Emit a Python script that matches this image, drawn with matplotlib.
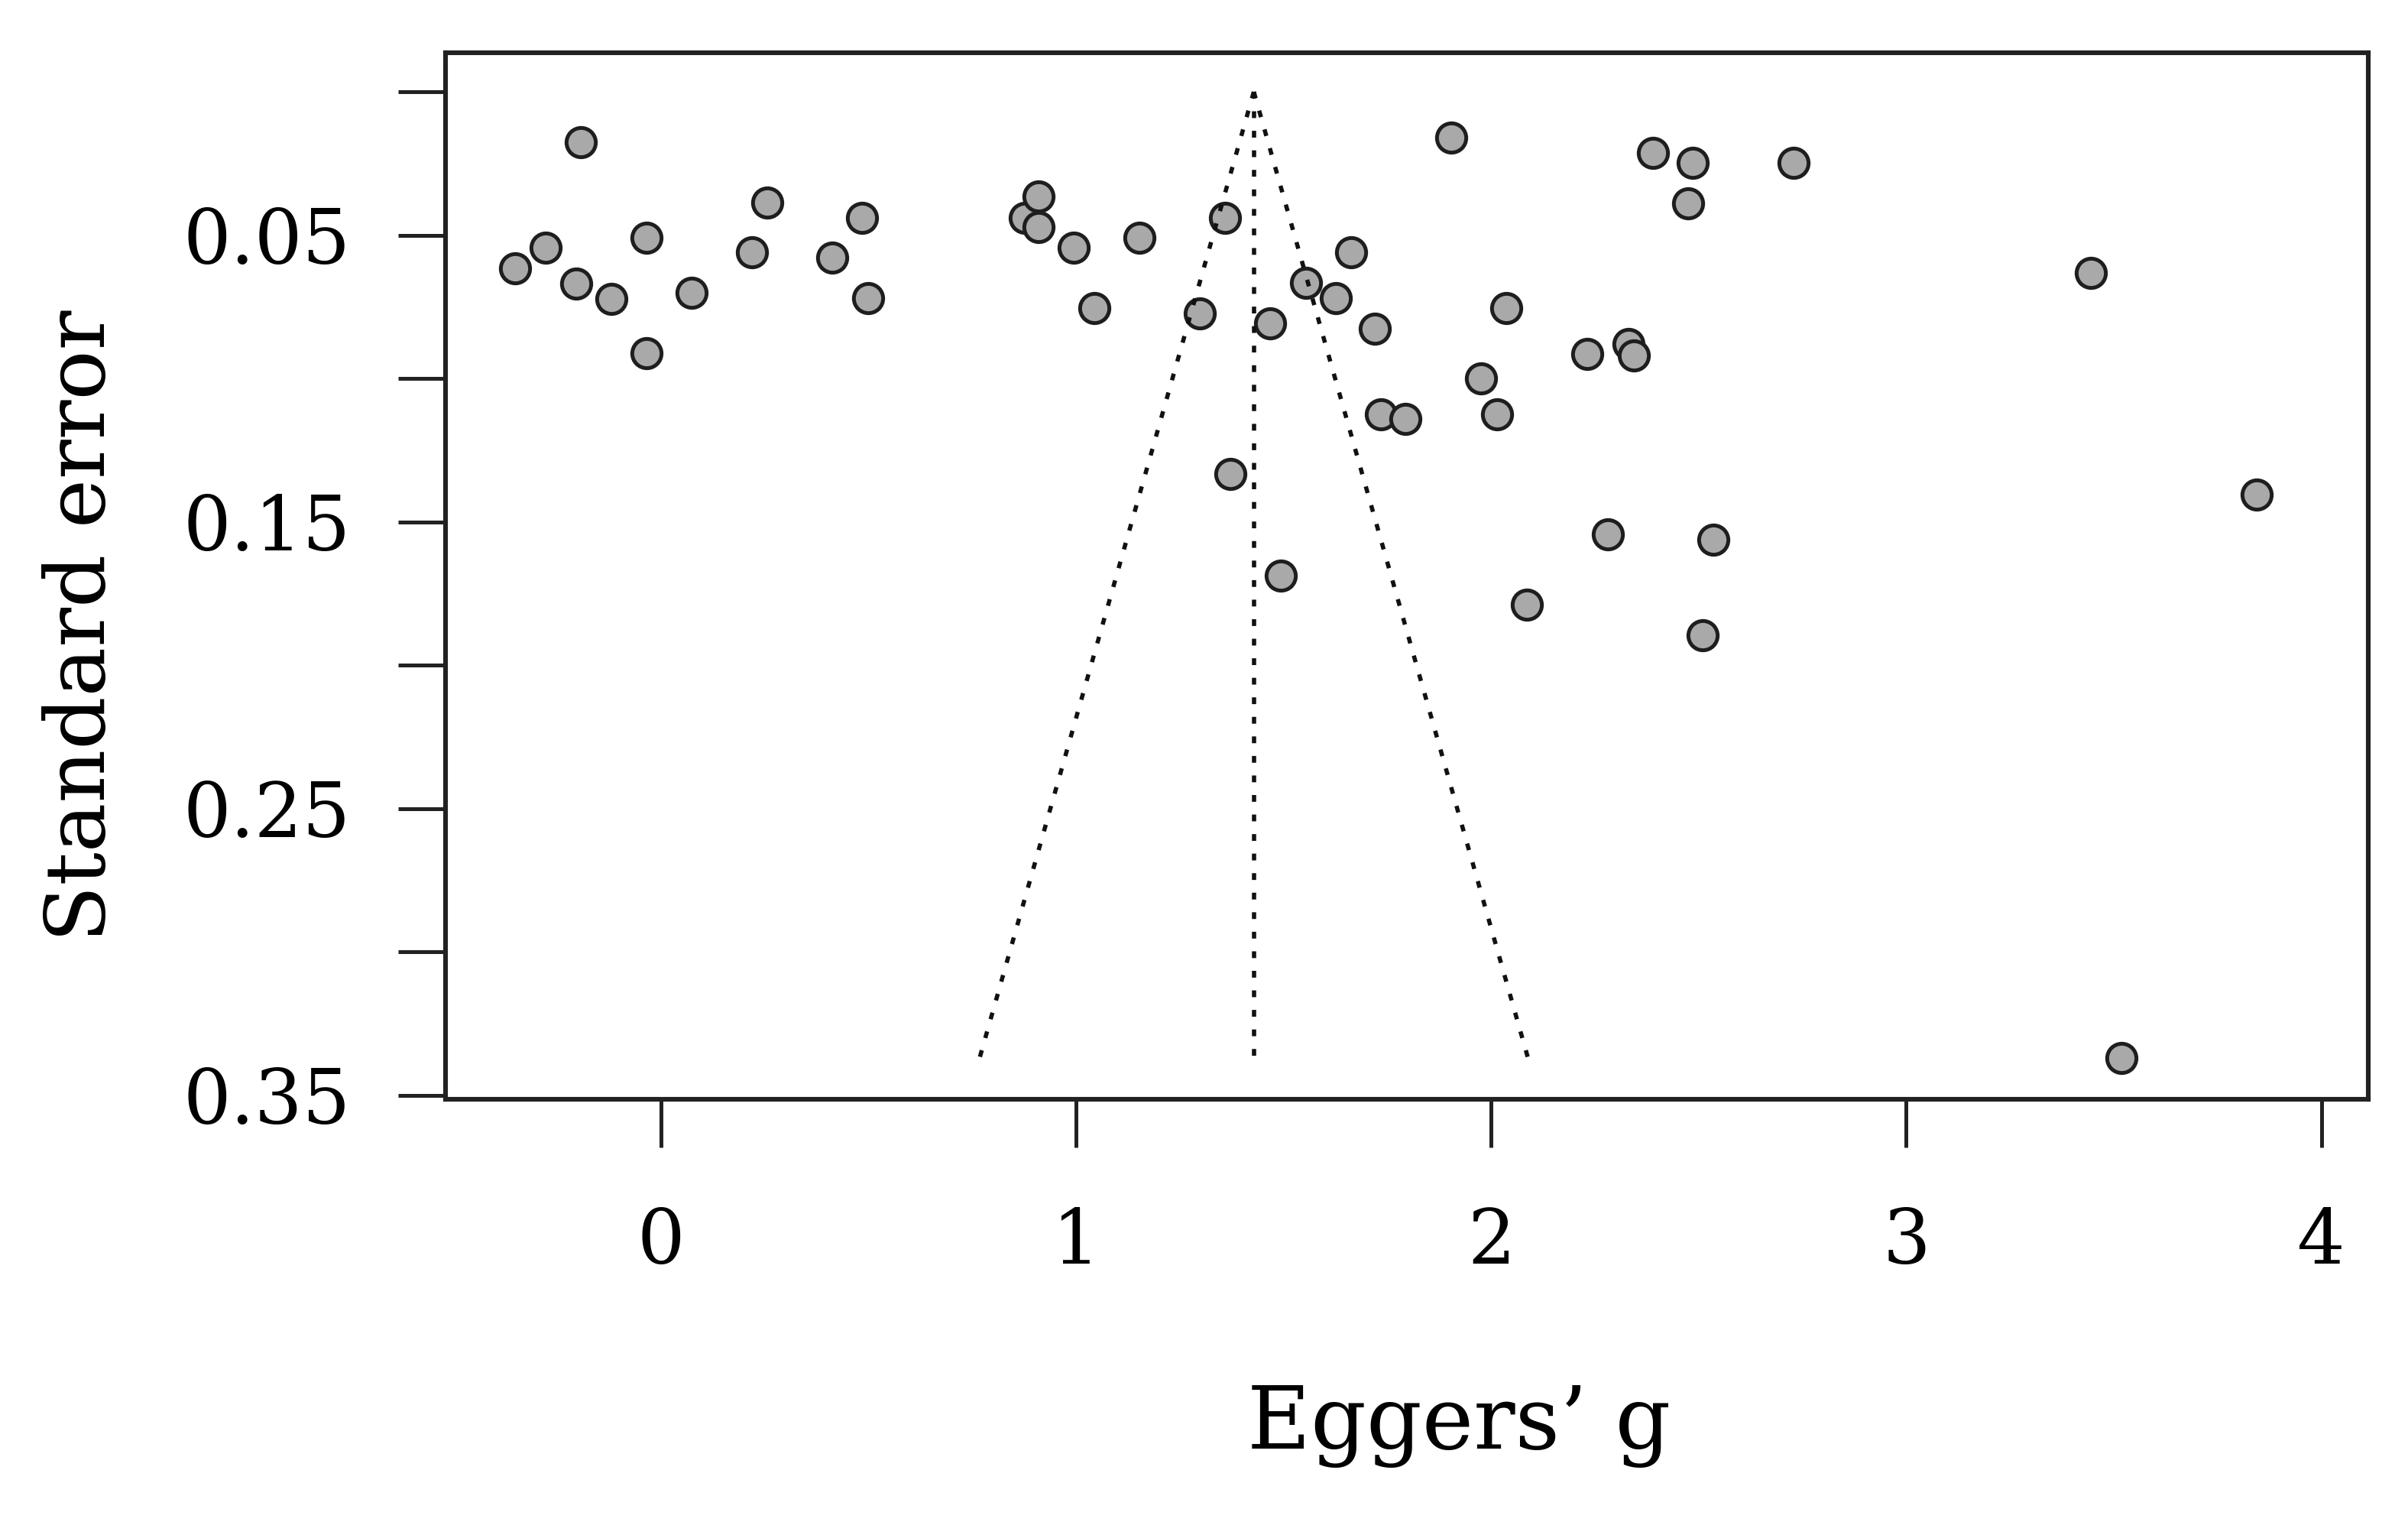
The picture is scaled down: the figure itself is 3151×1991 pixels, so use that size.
import matplotlib
matplotlib.use("Agg")
import matplotlib.pyplot as plt
import numpy as np

# Effect sizes (Eggers' g) and standard errors
effect = [-0.352, -0.279, -0.194, -0.204, -0.120, -0.036, -0.036, 0.073,
          0.219, 0.255, 0.412, 0.485, 0.498, 0.876, 0.910, 0.910,
          0.994, 1.043, 1.153, 1.298, 1.359, 1.371, 1.467, 1.493,
          1.554, 1.625, 1.662, 1.720, 1.734, 1.794, 1.903, 1.976,
          2.014, 2.037, 2.085, 2.231, 2.281, 2.330, 2.344, 2.389,
          2.475, 2.486, 2.510, 2.536, 2.729, 3.444, 3.519, 3.844]
std_err = [0.0615, 0.0544, 0.0177, 0.0670, 0.0722, 0.0509, 0.0913, 0.0700,
           0.0560, 0.0387, 0.0579, 0.0439, 0.0721, 0.0439, 0.0366, 0.0473,
           0.0544, 0.0755, 0.0510, 0.0773, 0.0439, 0.1333, 0.0808, 0.1688,
           0.0666, 0.0719, 0.0561, 0.0826, 0.1124, 0.1141, 0.0159, 0.0999,
           0.1124, 0.0755, 0.1790, 0.0914, 0.1545, 0.0880, 0.0919, 0.0212,
           0.0389, 0.0247, 0.1897, 0.1562, 0.0247, 0.0633, 0.3369, 0.1406]

pooled = 1.428       # summary estimate (apex of funnel)
se_max = 0.3375      # funnel extends to this standard error
z = 1.96

y_ticks = [0.00, 0.05, 0.10, 0.15, 0.20, 0.25, 0.30, 0.35]
y_ticklabels = ["", "0.05", "", "0.15", "", "0.25", "", "0.35"]
x_ticks = [0, 1, 2, 3, 4]
x_ticklabels = ["0", "1", "2", "3", "4"]

plt.rcParams["font.family"] = ["DejaVu Serif"]

fig = plt.figure(figsize=(31.51, 19.91), dpi=100)
ax = fig.add_axes([0.1849, 0.278, 0.7986, 0.6871])

ax.scatter(effect, std_err, s=760, facecolor="#a9a9a9", edgecolor="#1e1e1e",
           linewidth=3.6, zorder=2)

dot = (0, (1.6, 3.0))
se_line = np.array([0.0, se_max])
line_kw = dict(color="#111111", lw=4.0, linestyle=dot, dash_capstyle="butt", zorder=3)
ax.plot([pooled, pooled], se_line, **line_kw)
ax.plot(pooled - z * se_line, se_line, **line_kw)
ax.plot(pooled + z * se_line, se_line, **line_kw)

ax.set_xlim(-0.520, 4.113)
ax.set_ylim(0.3513, -0.0135)

ax.set_yticks(y_ticks)
ax.set_yticklabels(y_ticklabels)
ax.set_xticks(x_ticks)
ax.set_xticklabels(x_ticklabels)

for sp in ax.spines.values():
    sp.set_linewidth(4.4)
    sp.set_color("#222222")

ax.tick_params(axis="both", direction="out", length=45, width=3.6,
               color="#222222", labelsize=71, labelcolor="black")
ax.tick_params(axis="y", pad=44)
ax.tick_params(axis="x", pad=56)

ax.set_ylabel("Standard error", fontsize=78)
ax.yaxis.set_label_coords(-0.168, 0.452)
ax.set_xlabel("Eggers\u2019 g", fontsize=82)
ax.xaxis.set_label_coords(0.527, -0.272)

fig.savefig("out.png", dpi=100, facecolor="white")
